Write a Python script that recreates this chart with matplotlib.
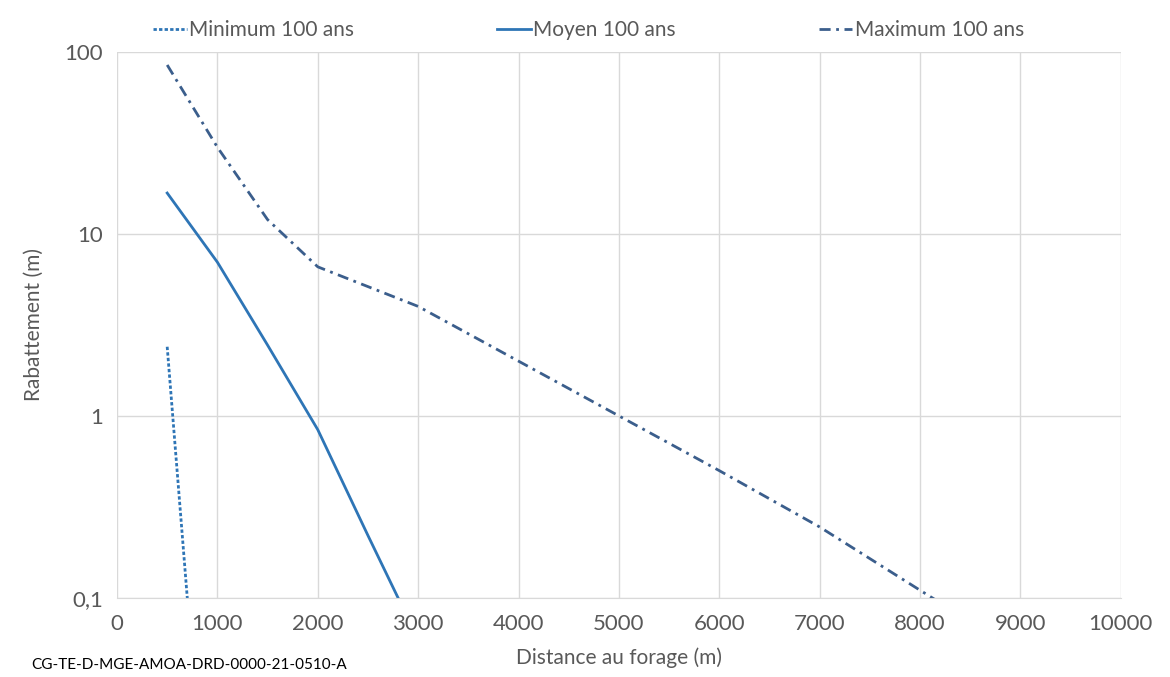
import matplotlib
matplotlib.use('Agg')
import matplotlib.pyplot as plt
from matplotlib.ticker import FixedLocator, FixedFormatter

plt.rcParams['font.family'] = ['Lato', 'DejaVu Sans']

# donnees
dist_min = [500, 1000]
rab_min = [2.4, 0.00085]

dist_moy = [500, 1000, 1500, 2000, 2500, 3000]
rab_moy = [16.8, 7.0, 2.45, 0.84, 0.22, 0.059]

dist_max = [500, 1000, 1500, 2000, 3000, 4000, 5000, 6000, 7000, 8000, 8500]
rab_max = [85, 30, 12, 6.6, 4.0, 2.0, 1.0, 0.5, 0.245, 0.11, 0.074]

xticks = list(range(0, 10001, 1000))
yticks = [0.1, 1, 10, 100]
ylabels = ['0,1', '1', '10', '100']

fig = plt.figure(figsize=(11.7, 6.77), dpi=100)
ax = fig.add_axes([0.1, 0.117, 0.858, 0.806])

ax.plot(dist_min, rab_min, color='#2E75B6', lw=2, ls=(0, (1.2, 0.8)), label='Minimum 100 ans')
ax.plot(dist_moy, rab_moy, color='#2E75B6', lw=2, label='Moyen 100 ans')
ax.plot(dist_max, rab_max, color='#3B5E8C', lw=2, ls=(0, (4, 2, 1, 2)), label='Maximum 100 ans')

ax.set_yscale('log')
ax.set_xlim(0, 10000)
ax.set_ylim(0.1, 100)
ax.set_xticks(xticks)
ax.yaxis.set_major_locator(FixedLocator(yticks))
ax.yaxis.set_major_formatter(FixedFormatter(ylabels))
ax.yaxis.set_minor_locator(FixedLocator([]))
ax.grid(True, color='#D9D9D9', lw=1)
ax.set_axisbelow(True)
for s in ['top', 'right', 'left']:
    ax.spines[s].set_visible(False)
ax.spines['bottom'].set_color('#D9D9D9')
ax.tick_params(axis='x', length=0, labelsize=16, colors='#595959', pad=12)
ax.tick_params(axis='y', length=0, labelsize=16, colors='#595959', pad=10)

ax.set_xlabel('Distance au forage (m)', fontsize=15, color='#595959', labelpad=9)
ax.set_ylabel('Rabattement (m)', fontsize=15, color='#595959', labelpad=15)

fig.legend(loc='center', bbox_to_anchor=(0.503, 0.955), ncol=3, frameon=False,
           fontsize=15, handlelength=1.6, handletextpad=0.1, columnspacing=6.9,
           labelcolor='#595959')

fig.text(0.027, 0.012, 'CG-TE-D-MGE-AMOA-DRD-0000-21-0510-A', fontsize=11, color='black')

fig.savefig('out.png', dpi=100)
